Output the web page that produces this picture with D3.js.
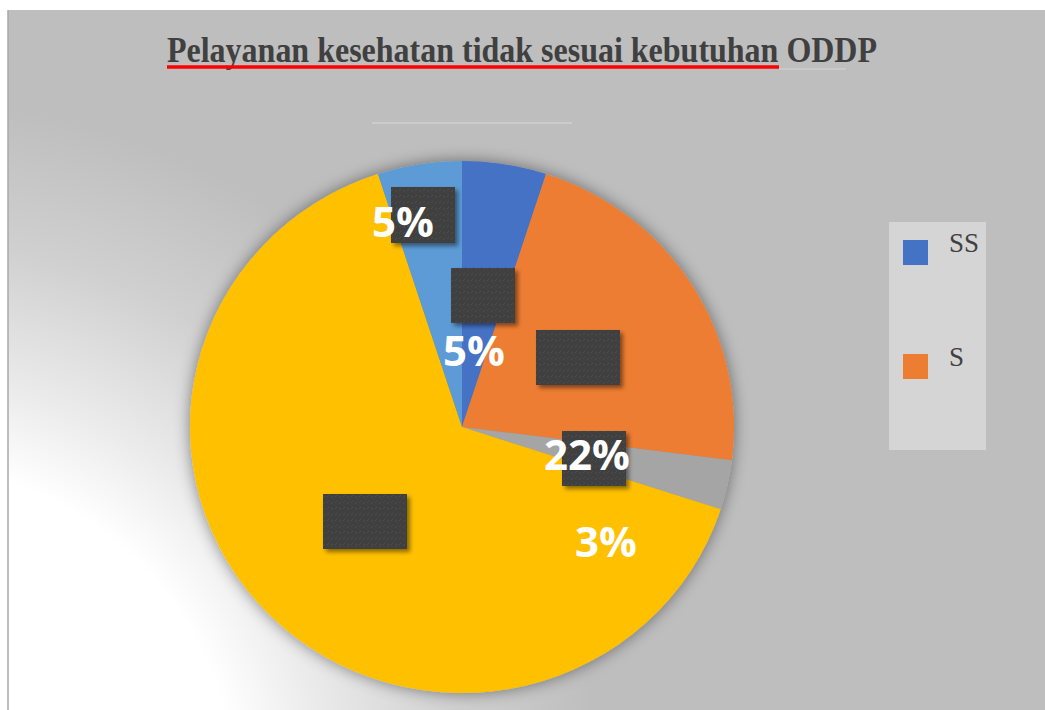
<!DOCTYPE html>
<html>
<head>
<meta charset="utf-8">
<script src="https://cdn.jsdelivr.net/npm/d3@7"></script>
<style>
  html, body { margin: 0; padding: 0; background: #fff; }
  svg { display: block; }
</style>
</head>
<body>
<script>
// data
const categories = ["SS", "S", "N", "TS", "STS"];
const values = [5, 22, 3, 65, 5];
const colors = ["#4472C4", "#ED7D31", "#A5A5A5", "#FFC000", "#5B9BD5"];
const shownLabels = [true, true, true, false, true];
const title = "Pelayanan kesehatan tidak sesuai kebutuhan ODDP";

// layout (label / box offsets from the pie center, as in the original chart)
const labelOffsets = [[12, -61], [125, 43], [144, 130], [0, 0], [-59, -190]];
const boxOffsets = [[-11, -159, 64, 55], [74, -97, 84, 55], [100, 4, 64, 55], [-139, 67, 84, 55], [-71, -240, 64, 56]];

const W = 1045, H = 710;
const cx = 462, cy = 427, R = 272, ry = 266;

const svg = d3.select("body").append("svg")
  .attr("width", W)
  .attr("height", H);

const defs = svg.append("defs");

const bg = defs.append("radialGradient")
  .attr("id", "bg")
  .attr("gradientUnits", "userSpaceOnUse")
  .attr("cx", -100).attr("cy", 800).attr("r", 700);
bg.append("stop").attr("offset", "0").attr("stop-color", "#ffffff");
bg.append("stop").attr("offset", "0.48").attr("stop-color", "#ffffff");
bg.append("stop").attr("offset", "0.6").attr("stop-color", "#ececec");
bg.append("stop").attr("offset", "0.8").attr("stop-color", "#d0d0d0");
bg.append("stop").attr("offset", "1").attr("stop-color", "#bebebe");

const pieShadow = defs.append("filter").attr("id", "pieShadow")
  .attr("x", "-20%").attr("y", "-20%").attr("width", "140%").attr("height", "140%");
pieShadow.append("feDropShadow")
  .attr("dx", 0).attr("dy", 0).attr("stdDeviation", 8)
  .attr("flood-color", "#000").attr("flood-opacity", 0.45);

const boxShadow = defs.append("filter").attr("id", "boxShadow")
  .attr("x", "-20%").attr("y", "-20%").attr("width", "150%").attr("height", "150%");
boxShadow.append("feDropShadow")
  .attr("dx", 3).attr("dy", 3).attr("stdDeviation", 2)
  .attr("flood-color", "#000").attr("flood-opacity", 0.45);

const tex = defs.append("pattern").attr("id", "tex")
  .attr("patternUnits", "userSpaceOnUse")
  .attr("width", 8).attr("height", 6);
tex.append("rect").attr("width", 8).attr("height", 6).attr("fill", "#404040");
tex.append("path").attr("d", "M1,4 L3,2 M5,5 L7,3")
  .attr("stroke", "#4d4d4d").attr("stroke-width", 1);

// chart area
svg.append("rect")
  .attr("x", 8).attr("y", 10)
  .attr("width", W - 8).attr("height", H - 10)
  .attr("fill", "#bebebe");
svg.append("rect")
  .attr("x", 8).attr("y", 10)
  .attr("width", W - 8).attr("height", H - 10)
  .attr("fill", "url(#bg)");
svg.append("line")
  .attr("x1", 8).attr("x2", 8).attr("y1", 10).attr("y2", H)
  .attr("stroke", "#a8a8a8").attr("stroke-width", 1.5);

// title
svg.append("text")
  .attr("x", 167).attr("y", 62)
  .attr("font-family", "'Liberation Serif', 'Times New Roman', serif")
  .attr("font-weight", "bold")
  .attr("font-size", 36)
  .attr("fill", "#404040")
  .attr("textLength", 710)
  .attr("lengthAdjust", "spacingAndGlyphs")
  .text(title);

svg.append("line")
  .attr("x1", 167).attr("x2", 779).attr("y1", 67).attr("y2", 67)
  .attr("stroke", "#ff0000").attr("stroke-width", 3.5);
svg.append("line")
  .attr("x1", 779).attr("x2", 846).attr("y1", 69).attr("y2", 69)
  .attr("stroke", "#d4d4d4").attr("stroke-width", 1);
svg.append("line")
  .attr("x1", 372).attr("x2", 572).attr("y1", 123).attr("y2", 123)
  .attr("stroke", "#d9d9d9").attr("stroke-width", 1);

// pie
const pie = d3.pie().sort(null).value(d => d.value);
const arc = d3.arc().innerRadius(0).outerRadius(R);
const data = categories.map((c, i) => ({ cat: c, value: values[i], color: colors[i], i: i }));

const pieG = svg.append("g")
  .attr("transform", `translate(${cx},${cy}) scale(1,${ry / R})`)
  .attr("filter", "url(#pieShadow)");

pieG.selectAll("path")
  .data(pie(data))
  .join("path")
  .attr("d", arc)
  .attr("fill", d => d.data.color);

// label boxes
const boxG = svg.append("g").attr("transform", `translate(${cx},${cy})`);
boxG.selectAll("rect")
  .data(data)
  .join("rect")
  .attr("x", d => boxOffsets[d.i][0])
  .attr("y", d => boxOffsets[d.i][1])
  .attr("width", d => boxOffsets[d.i][2])
  .attr("height", d => boxOffsets[d.i][3])
  .attr("fill", "url(#tex)")
  .attr("filter", "url(#boxShadow)");

// percentage labels
const total = d3.sum(values);
boxG.selectAll("text")
  .data(data.filter(d => shownLabels[d.i]))
  .join("text")
  .attr("x", d => labelOffsets[d.i][0])
  .attr("y", d => labelOffsets[d.i][1])
  .attr("text-anchor", "middle")
  .attr("font-family", "'Open Sans', Lato, sans-serif")
  .attr("font-weight", "bold")
  .attr("font-size", 42)
  .attr("fill", "#ffffff")
  .text(d => Math.round(d.value / total * 100) + "%");

// legend: box is too small, only the entries that fit are shown
const lx = 889, ly = 222, lw = 97, lh = 228, step = 114;
const leg = svg.append("g");
leg.append("rect")
  .attr("x", lx).attr("y", ly).attr("width", lw).attr("height", lh)
  .attr("fill", "#d5d5d5");

const legItem = leg.selectAll("g.item")
  .data(data.filter(d => 18 + d.i * step + 25 < lh))
  .join("g")
  .attr("class", "item")
  .attr("transform", d => `translate(${lx + 14},${ly + 18 + d.i * step})`);
legItem.append("rect")
  .attr("width", 25).attr("height", 25)
  .attr("fill", d => d.color);
legItem.append("text")
  .attr("x", 46).attr("y", 12)
  .attr("font-family", "'Liberation Serif', 'Times New Roman', serif")
  .attr("font-size", 27)
  .attr("fill", "#404040")
  .text(d => d.cat);
</script>
</body>
</html>
